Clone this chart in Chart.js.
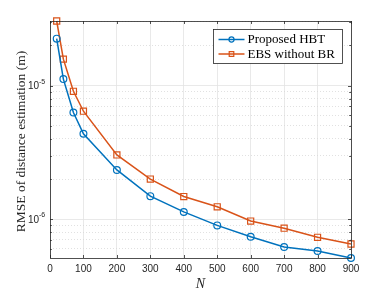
<!DOCTYPE html>
<html>
<head>
<meta charset="utf-8">
<script src="https://cdn.jsdelivr.net/npm/chart.js@4"></script>
<style>
  html, body { margin: 0; padding: 0; background: #fff; }
</style>
</head>
<body>
<canvas id="rmse-chart" width="388" height="291"></canvas>
<script>
// Data
const nValues = [20, 40, 70, 100, 200, 300, 400, 500, 600, 700, 800, 900];
const hbtRmse = [2.25e-5, 1.12e-5, 6.3e-6, 4.37e-6, 2.34e-6, 1.49e-6, 1.135e-6, 9.0e-7, 7.4e-7, 6.2e-7, 5.79e-7, 5.13e-7];
const ebsRmse = [3.05e-5, 1.58e-5, 9.08e-6, 6.44e-6, 3.03e-6, 2.0e-6, 1.48e-6, 1.24e-6, 9.7e-7, 8.57e-7, 7.33e-7, 6.53e-7];
const seriesLabels = ["Proposed HBT", "EBS without BR"];

// Axis ticks
const xTicks = [0, 100, 200, 300, 400, 500, 600, 700, 800, 900];
const yMajorTicks = [1e-6, 1e-5];
const yMinorTicks = [6e-7, 7e-7, 8e-7, 9e-7, 2e-6, 3e-6, 4e-6, 5e-6, 6e-6, 7e-6, 8e-6, 9e-6, 2e-5, 3e-5];
const yMin = 5.13e-7;
const yMax = 3.05e-5;

const isMajor = function (v) {
  return yMajorTicks.some((m) => Math.abs(v - m) / m < 1e-6);
};

// Box, inward ticks, tick labels with exponents, axis titles and legend
const matlabLook = {
  id: "matlabLook",
  afterDraw: function (chart) {
    const ctx = chart.ctx;
    const area = chart.chartArea;
    const xs = chart.scales.x;
    const ys = chart.scales.y;
    ctx.save();

    // inward ticks
    ctx.strokeStyle = "#262626";
    ctx.lineWidth = 0.8;
    ctx.beginPath();
    xTicks.forEach((v) => {
      const px = Math.round(xs.getPixelForValue(v)) + 0.5;
      ctx.moveTo(px, area.bottom); ctx.lineTo(px, area.bottom - 3);
      ctx.moveTo(px, area.top); ctx.lineTo(px, area.top + 3);
    });
    yMajorTicks.concat(yMinorTicks).forEach((v) => {
      const py = Math.round(ys.getPixelForValue(v)) + 0.5;
      const len = isMajor(v) ? 3 : 1.8;
      ctx.moveTo(area.left, py); ctx.lineTo(area.left + len, py);
      ctx.moveTo(area.right, py); ctx.lineTo(area.right - len, py);
    });
    ctx.stroke();

    // box
    ctx.strokeRect(Math.round(area.left) + 0.5, Math.round(area.top) + 0.5,
      Math.round(area.right - area.left), Math.round(area.bottom - area.top));

    // y tick labels 10^-n
    ctx.fillStyle = "#262626";
    yMajorTicks.forEach((v) => {
      const py = ys.getPixelForValue(v);
      const exp = Math.round(Math.log10(v));
      ctx.font = "10px 'Liberation Sans', Arial, sans-serif";
      ctx.textAlign = "right";
      ctx.textBaseline = "middle";
      ctx.fillText("10", area.left - 11, py + 1);
      ctx.font = "7px 'Liberation Sans', Arial, sans-serif";
      ctx.textAlign = "left";
      ctx.fillText(String(exp), area.left - 11, py - 4);
    });

    // axis titles
    ctx.fillStyle = "#262626";
    ctx.font = "italic 14px 'Liberation Serif', 'Times New Roman', serif";
    ctx.textAlign = "center";
    ctx.textBaseline = "alphabetic";
    ctx.fillText("N", (area.left + area.right) / 2, 288);

    ctx.save();
    ctx.translate(21, (area.top + area.bottom) / 2 + 2);
    ctx.rotate(-Math.PI / 2);
    ctx.font = "13.5px 'Liberation Serif', 'Times New Roman', serif";
    ctx.textBaseline = "middle";
    ctx.fillText("RMSE of distance estimation (m)", 0, 0);
    ctx.restore();

    // legend
    const lx = 213.5, ly = 29.5, lw = 129, lh = 34;
    ctx.fillStyle = "#fff";
    ctx.fillRect(lx, ly, lw, lh);
    ctx.strokeStyle = "#262626";
    ctx.lineWidth = 0.8;
    ctx.strokeRect(lx, ly, lw, lh);
    chart.data.datasets.forEach((ds, i) => {
      const cy = ly + 10 + i * 14.5;
      ctx.strokeStyle = ds.borderColor;
      ctx.lineWidth = ds.borderWidth;
      ctx.beginPath();
      ctx.moveTo(lx + 5, cy);
      ctx.lineTo(lx + 31, cy);
      ctx.stroke();
      ctx.fillStyle = "rgba(0,0,0,0)";
      ctx.lineWidth = ds.pointBorderWidth;
      Chart.helpers.drawPoint(ctx, {
        pointStyle: ds.pointStyle,
        radius: ds.pointRadius * 0.75,
        borderWidth: ds.pointBorderWidth,
        rotation: 0
      }, lx + 18, cy);
      ctx.fillStyle = "#000";
      ctx.font = "13px 'Liberation Serif', 'Times New Roman', serif";
      ctx.textAlign = "left";
      ctx.textBaseline = "middle";
      ctx.fillText(ds.label, lx + 34, cy + 0.5);
    });

    ctx.restore();
  }
};

const ctx = document.getElementById("rmse-chart").getContext("2d");

new Chart(ctx, {
  type: "line",
  data: {
    labels: nValues,
    datasets: [
      {
        label: seriesLabels[0],
        data: nValues.map((n, i) => ({ x: n, y: hbtRmse[i] })),
        borderColor: "#0072BD",
        backgroundColor: "rgba(0,0,0,0)",
        borderWidth: 1.5,
        pointStyle: "circle",
        pointRadius: 3.4,
        pointBorderWidth: 1.2,
        pointBorderColor: "#0072BD",
        pointBackgroundColor: "rgba(0,0,0,0)",
        tension: 0
      },
      {
        label: seriesLabels[1],
        data: nValues.map((n, i) => ({ x: n, y: ebsRmse[i] })),
        borderColor: "#D95319",
        backgroundColor: "rgba(0,0,0,0)",
        borderWidth: 1.5,
        pointStyle: "rect",
        pointRadius: 4.3,
        pointBorderWidth: 1.2,
        pointBorderColor: "#D95319",
        pointBackgroundColor: "rgba(0,0,0,0)",
        tension: 0
      }
    ]
  },
  options: {
    responsive: false,
    animation: false,
    clip: false,
    layout: {
      padding: { left: 0, top: 21, right: 37, bottom: 0 }
    },
    plugins: {
      legend: { display: false },
      tooltip: { enabled: false }
    },
    scales: {
      x: {
        type: "linear",
        min: 0,
        max: 900,
        afterBuildTicks: function (scale) {
          scale.ticks = xTicks.map((v) => ({ value: v }));
        },
        afterFit: function (scale) {
          scale.height = 33;
        },
        ticks: {
          padding: 5,
          color: "#262626",
          font: { family: "'Liberation Sans', Arial, sans-serif", size: 10 },
          maxRotation: 0
        },
        grid: {
          color: "#e3e3e3",
          lineWidth: 0.8,
          drawTicks: false
        },
        border: { display: false }
      },
      y: {
        type: "logarithmic",
        min: yMin,
        max: yMax,
        afterBuildTicks: function (scale) {
          scale.ticks = yMajorTicks.concat(yMinorTicks)
            .sort((a, b) => a - b)
            .map((v) => ({ value: v, major: isMajor(v) }));
        },
        afterFit: function (scale) {
          scale.width = 50;
        },
        ticks: { display: false },
        grid: {
          color: (c) => (c.tick && isMajor(c.tick.value) ? "#e3e3e3" : "#d9d9d9"),
          lineWidth: 0.8,
          drawTicks: false
        },
        border: {
          display: false,
          dash: (c) => (c.tick && isMajor(c.tick.value) ? [] : [1, 2])
        }
      }
    }
  },
  plugins: [matlabLook]
});
</script>
</body>
</html>
